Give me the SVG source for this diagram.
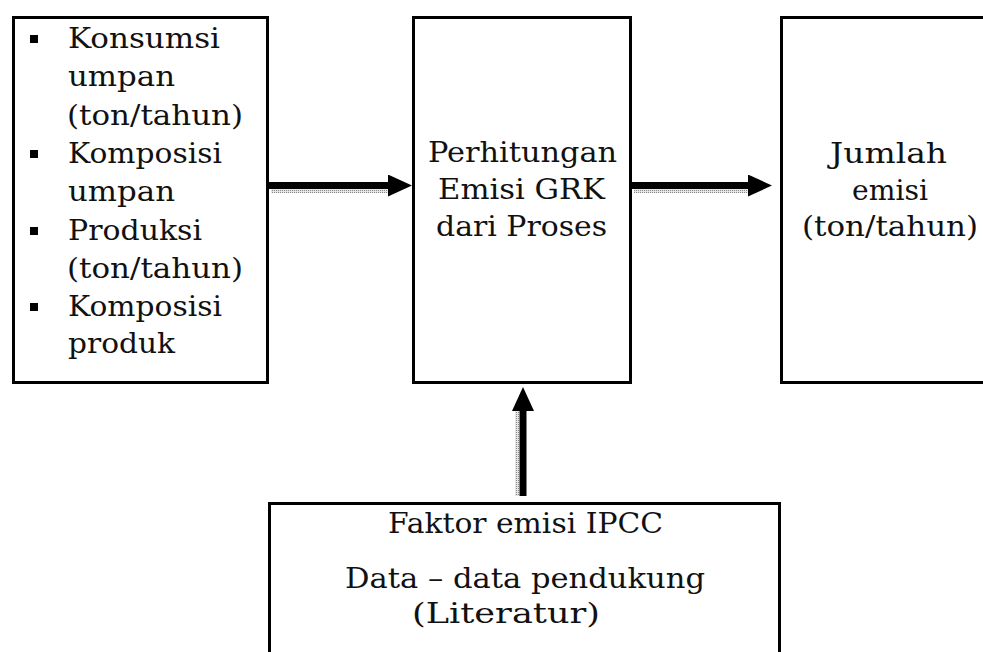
<svg xmlns="http://www.w3.org/2000/svg" width="983" height="652" viewBox="0 0 983 652">
<defs>
<style>
.box{fill:#fff;stroke:#000;stroke-width:3}
.t{font-family:"DejaVu Serif","Liberation Serif",serif;font-size:27px;fill:#111}
.shaft{stroke:#000;stroke-width:7;fill:none}
.shadow{fill:url(#dots)}
</style>
<pattern id="dots" width="2" height="2" patternUnits="userSpaceOnUse">
<rect width="2" height="2" fill="#e6e6e6"/>
<rect width="1" height="1" fill="#888"/>
</pattern>
<marker id="head" markerUnits="userSpaceOnUse" markerWidth="24" markerHeight="22" refX="2" refY="11" orient="auto">
<path d="M0,0 L24,11 L0,22 Z" fill="#000"/>
</marker>
</defs>
<rect width="983" height="652" fill="#fff"/>

<g id="inputs">
<rect class="box" x="13.5" y="17.5" width="254" height="365"/>
<rect x="30" y="35" width="8" height="8"/>
<rect x="30" y="150" width="8" height="8"/>
<rect x="30" y="227" width="8" height="8"/>
<rect x="30" y="303" width="8" height="8"/>
<text class="t" x="68" y="48" textLength="152" lengthAdjust="spacingAndGlyphs">Konsumsi</text>
<text class="t" x="68" y="86" textLength="107" lengthAdjust="spacingAndGlyphs">umpan</text>
<text class="t" x="67" y="125" textLength="176" lengthAdjust="spacingAndGlyphs">(ton/tahun)</text>
<text class="t" x="68" y="163" textLength="154" lengthAdjust="spacingAndGlyphs">Komposisi</text>
<text class="t" x="68" y="201" textLength="107" lengthAdjust="spacingAndGlyphs">umpan</text>
<text class="t" x="68" y="240" textLength="134" lengthAdjust="spacingAndGlyphs">Produksi</text>
<text class="t" x="67" y="278" textLength="176" lengthAdjust="spacingAndGlyphs">(ton/tahun)</text>
<text class="t" x="68" y="316" textLength="154" lengthAdjust="spacingAndGlyphs">Komposisi</text>
<text class="t" x="68" y="353" textLength="107" lengthAdjust="spacingAndGlyphs">produk</text>
</g>

<g id="process">
<rect class="box" x="413.5" y="17.5" width="217" height="365"/>
<text class="t" x="428" y="162" textLength="189" lengthAdjust="spacingAndGlyphs">Perhitungan</text>
<text class="t" x="438" y="199" textLength="167" lengthAdjust="spacingAndGlyphs">Emisi GRK</text>
<text class="t" x="436" y="236" textLength="171" lengthAdjust="spacingAndGlyphs">dari Proses</text>
</g>

<g id="output">
<rect class="box" x="781.5" y="17.5" width="300" height="365"/>
<text class="t" x="830" y="163" textLength="117" lengthAdjust="spacingAndGlyphs">Jumlah</text>
<text class="t" x="852" y="200" textLength="76" lengthAdjust="spacingAndGlyphs">emisi</text>
<text class="t" x="802" y="236" textLength="176" lengthAdjust="spacingAndGlyphs">(ton/tahun)</text>
</g>

<g id="data">
<rect class="box" x="269.5" y="503.5" width="510" height="200"/>
<text class="t" x="388" y="533" textLength="275" lengthAdjust="spacingAndGlyphs">Faktor emisi IPCC</text>
<text class="t" x="345" y="588" textLength="360" lengthAdjust="spacingAndGlyphs">Data – data pendukung</text>
<text class="t" x="412" y="623" textLength="188" lengthAdjust="spacingAndGlyphs">(Literatur)</text>
</g>

<g id="connectors">
<rect class="shadow" x="271" y="189" width="121" height="4"/>
<rect class="shadow" x="634" y="189" width="118" height="4"/>
<rect class="shadow" x="515" y="405" width="4" height="91"/>
<line class="shaft" x1="269" y1="185.5" x2="390" y2="185.5" marker-end="url(#head)"/>
<line class="shaft" x1="632" y1="185.5" x2="750" y2="185.5" marker-end="url(#head)"/>
<line class="shaft" x1="523" y1="496" x2="523" y2="409" marker-end="url(#head)"/>
</g>
</svg>
